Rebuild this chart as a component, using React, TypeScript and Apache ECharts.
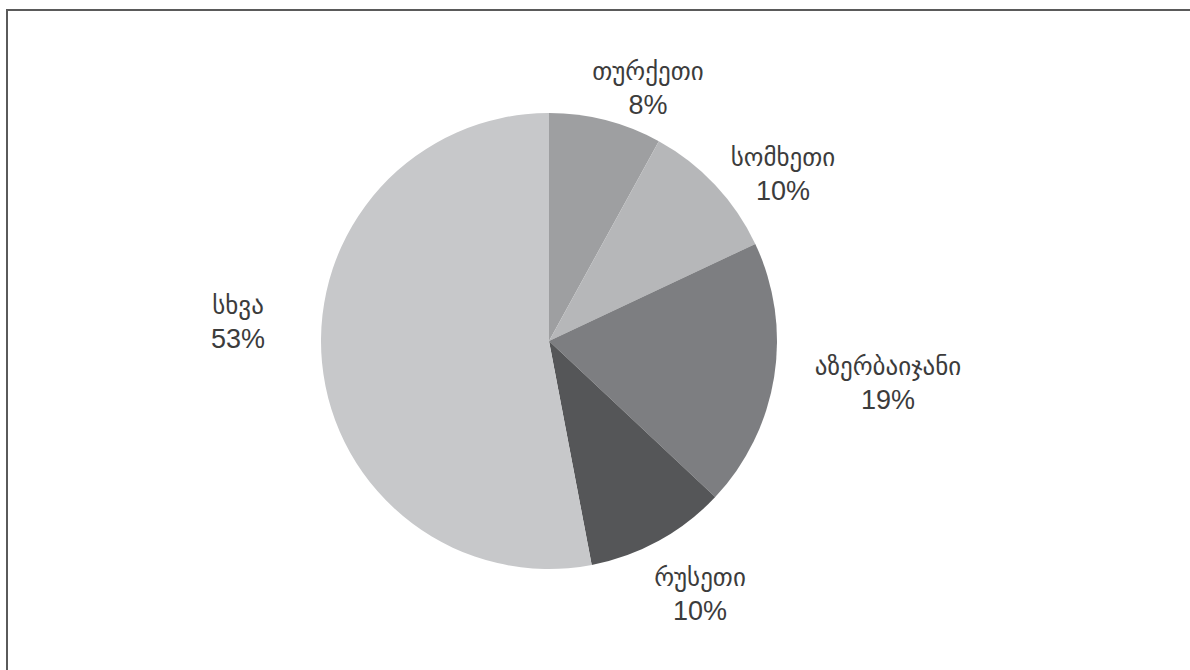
import React, { useEffect, useRef } from "react";
import * as echarts from "echarts";

const categories = ["თურქეთი", "სომხეთი", "აზერბაიჯანი", "რუსეთი", "სხვა"];
const values = [8, 10, 19, 10, 53];
const sliceColors = ["#9e9fa1", "#b6b7b9", "#7d7e81", "#555658", "#c7c8ca"];
// label centres (layout only)
const labelCentres = [
  [648, 88],
  [783, 174],
  [888, 383],
  [700, 594],
  [238, 322],
];

export default function App() {
  const ref = useRef<HTMLDivElement>(null);
  useEffect(() => {
    if (!ref.current) return;
    const chart = echarts.init(ref.current, undefined, { renderer: "svg" });
    chart.setOption({
      animation: false,
      backgroundColor: "#ffffff",
      graphic: [
        {
          type: "line",
          shape: { x1: 6, y1: 10, x2: 1190, y2: 10 },
          style: { stroke: "#5a5a5a", lineWidth: 2 },
        },
        {
          type: "line",
          shape: { x1: 7, y1: 9, x2: 7, y2: 670 },
          style: { stroke: "#5a5a5a", lineWidth: 2 },
        },
      ],
      series: [
        {
          type: "pie",
          center: [549, 341],
          radius: 228,
          startAngle: 90,
          clockwise: true,
          avoidLabelOverlap: false,
          itemStyle: { borderWidth: 0 },
          label: {
            show: true,
            position: "outside",
            formatter: (p: any) => `{n|${p.name}}\n{v|${p.value}%}`,
            color: "#3c3c3c",
            align: "center",
            rich: {
              n: {
                fontFamily: "DejaVu Sans, sans-serif",
                fontSize: 25,
                lineHeight: 34,
                color: "#3c3c3c",
                align: "center",
              },
              v: {
                fontFamily: "Liberation Sans, sans-serif",
                fontSize: 27,
                lineHeight: 34,
                color: "#3c3c3c",
                align: "center",
              },
            },
          },
          labelLine: { show: false },
          labelLayout: (params: any) => {
            const c = labelCentres[params.dataIndex];
            return { x: c[0], y: c[1], align: "center", verticalAlign: "middle" };
          },
          emphasis: { disabled: true },
          data: categories.map((name, i) => ({
            name,
            value: values[i],
            itemStyle: { color: sliceColors[i] },
          })),
        },
      ],
    });
    return () => chart.dispose();
  }, []);
  return (
    <div
      ref={ref}
      style={{ position: "fixed", left: 0, top: 0, width: 1190, height: 670 }}
    />
  );
}
